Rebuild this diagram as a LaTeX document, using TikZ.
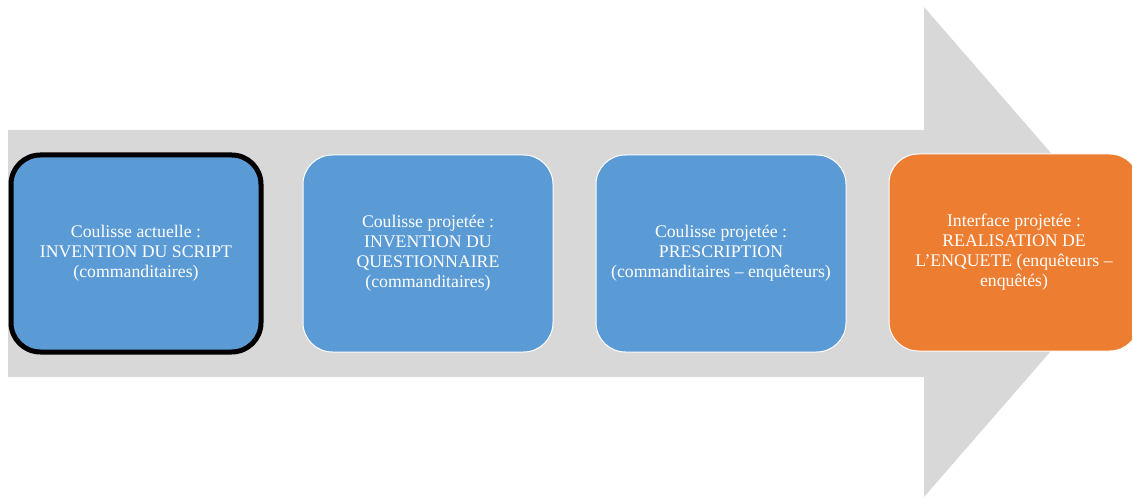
\documentclass[tikz,border=0pt]{standalone}
\usepackage{fontspec}
\setmainfont{Liberation Serif}
\definecolor{arrowgray}{RGB}{216,216,216}
\definecolor{stepblue}{RGB}{91,155,213}
\definecolor{steporange}{RGB}{237,125,49}
\tikzset{
  stagebox/.style={draw=white, line width=0.75pt, rounded corners=22pt,
    minimum width=250*0.75pt, minimum height=197*0.75pt, align=center,
    text=white, font=\fontsize{13.3}{15}\selectfont, inner sep=2pt},
}
\begin{document}
\begin{tikzpicture}[x=0.75pt, y=0.75pt]
    \useasboundingbox (0,0) rectangle (1132,497);
    % Big arrow
    \begin{scope}
      \clip (0,0) rectangle (1132,497);
      \fill[arrowgray] (8,367) -- (924,367) -- (924,490) -- (1137,245)
        -- (924,0) -- (924,120) -- (8,120) -- cycle;
    \end{scope}
    % Stages
    \node[stagebox, fill=stepblue, draw=black, line width=3.75pt] (script) at (136,243.5)
      {Coulisse actuelle :\\INVENTION DU SCRIPT\\(commanditaires)};
    \node[stagebox, fill=stepblue] (questionnaire) at (428,243.5)
      {Coulisse projetée :\\INVENTION DU\\QUESTIONNAIRE\\(commanditaires)};
    \node[stagebox, fill=stepblue] (prescription) at (721,243.5)
      {Coulisse projetée :\\PRESCRIPTION\\(commanditaires – enquêteurs)};
    \node[stagebox, fill=steporange] (enquete) at (1014,244.5)
      {Interface projetée :\\REALISATION DE\\L’ENQUETE (enquêteurs –\\enquêtés)};
\end{tikzpicture}
\end{document}
